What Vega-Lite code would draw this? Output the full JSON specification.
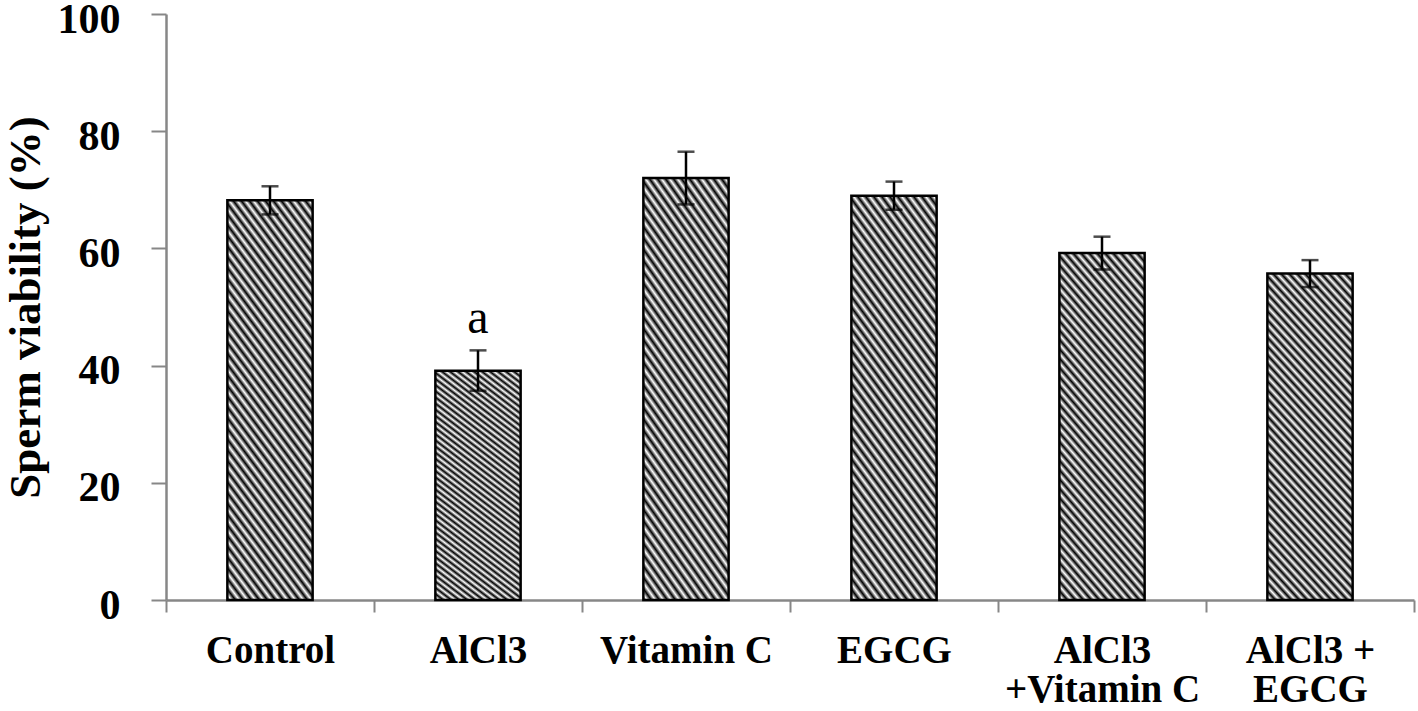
{
  "$schema": "https://vega.github.io/schema/vega-lite/v6.json",
  "autosize": "none",
  "width": 1248,
  "height": 586,
  "padding": {"left": 166, "top": 14, "right": 4, "bottom": 111},
  "background": "white",
  "config": {"view": {"stroke": null}},
  "data": {
    "values": [
      {"group": "Control", "mean": 68.2, "lo": 65.8, "hi": 70.6, "sig": ""},
      {"group": "AlCl3", "mean": 39.1, "lo": 35.7, "hi": 42.6, "sig": "a"},
      {"group": "Vitamin C", "mean": 72.0, "lo": 67.5, "hi": 76.5, "sig": ""},
      {"group": "EGCG", "mean": 69.0, "lo": 66.6, "hi": 71.4, "sig": ""},
      {"group": "AlCl3|+Vitamin C", "mean": 59.2, "lo": 56.4, "hi": 62.0, "sig": ""},
      {"group": "AlCl3 +|EGCG", "mean": 55.7, "lo": 53.4, "hi": 58.0, "sig": ""}
    ]
  },
  "encoding": {
    "x": {
      "field": "group",
      "type": "nominal",
      "sort": null,
      "scale": {"paddingInner": 0, "paddingOuter": 0},
      "axis": {
        "title": null,
        "labelAngle": 0,
        "labelExpr": "split(datum.label, '|')",
        "labelFont": "Liberation Serif",
        "labelFontWeight": "bold",
        "labelFontSize": 39,
        "labelLineHeight": 39,
        "labelColor": "black",
        "labelPadding": 19,
        "labelLimit": 400,
        "tickBand": "extent",
        "tickSize": 12,
        "tickWidth": 2,
        "tickColor": "#878787",
        "domainColor": "#878787",
        "domainWidth": 2.5
      }
    }
  },
  "layer": [
    {
      "mark": {
        "type": "bar",
        "width": {"band": 0.41},
        "stroke": "black",
        "strokeWidth": 2.5,
        "fill": {
          "gradient": "linear",
          "x1": 0, "y1": 1, "x2": 0.34, "y2": -0.19,
          "stops": [
            {"offset": 0, "color": "#000"},
            {"offset": 0.0104, "color": "#fff"},
            {"offset": 0.0208, "color": "#000"},
            {"offset": 0.0313, "color": "#fff"},
            {"offset": 0.0417, "color": "#000"},
            {"offset": 0.0521, "color": "#fff"},
            {"offset": 0.0625, "color": "#000"},
            {"offset": 0.0729, "color": "#fff"},
            {"offset": 0.0833, "color": "#000"},
            {"offset": 0.0938, "color": "#fff"},
            {"offset": 0.1042, "color": "#000"},
            {"offset": 0.1146, "color": "#fff"},
            {"offset": 0.125, "color": "#000"},
            {"offset": 0.1354, "color": "#fff"},
            {"offset": 0.1458, "color": "#000"},
            {"offset": 0.1563, "color": "#fff"},
            {"offset": 0.1667, "color": "#000"},
            {"offset": 0.1771, "color": "#fff"},
            {"offset": 0.1875, "color": "#000"},
            {"offset": 0.1979, "color": "#fff"},
            {"offset": 0.2083, "color": "#000"},
            {"offset": 0.2188, "color": "#fff"},
            {"offset": 0.2292, "color": "#000"},
            {"offset": 0.2396, "color": "#fff"},
            {"offset": 0.25, "color": "#000"},
            {"offset": 0.2604, "color": "#fff"},
            {"offset": 0.2708, "color": "#000"},
            {"offset": 0.2813, "color": "#fff"},
            {"offset": 0.2917, "color": "#000"},
            {"offset": 0.3021, "color": "#fff"},
            {"offset": 0.3125, "color": "#000"},
            {"offset": 0.3229, "color": "#fff"},
            {"offset": 0.3333, "color": "#000"},
            {"offset": 0.3438, "color": "#fff"},
            {"offset": 0.3542, "color": "#000"},
            {"offset": 0.3646, "color": "#fff"},
            {"offset": 0.375, "color": "#000"},
            {"offset": 0.3854, "color": "#fff"},
            {"offset": 0.3958, "color": "#000"},
            {"offset": 0.4063, "color": "#fff"},
            {"offset": 0.4167, "color": "#000"},
            {"offset": 0.4271, "color": "#fff"},
            {"offset": 0.4375, "color": "#000"},
            {"offset": 0.4479, "color": "#fff"},
            {"offset": 0.4583, "color": "#000"},
            {"offset": 0.4688, "color": "#fff"},
            {"offset": 0.4792, "color": "#000"},
            {"offset": 0.4896, "color": "#fff"},
            {"offset": 0.5, "color": "#000"},
            {"offset": 0.5104, "color": "#fff"},
            {"offset": 0.5208, "color": "#000"},
            {"offset": 0.5313, "color": "#fff"},
            {"offset": 0.5417, "color": "#000"},
            {"offset": 0.5521, "color": "#fff"},
            {"offset": 0.5625, "color": "#000"},
            {"offset": 0.5729, "color": "#fff"},
            {"offset": 0.5833, "color": "#000"},
            {"offset": 0.5938, "color": "#fff"},
            {"offset": 0.6042, "color": "#000"},
            {"offset": 0.6146, "color": "#fff"},
            {"offset": 0.625, "color": "#000"},
            {"offset": 0.6354, "color": "#fff"},
            {"offset": 0.6458, "color": "#000"},
            {"offset": 0.6563, "color": "#fff"},
            {"offset": 0.6667, "color": "#000"},
            {"offset": 0.6771, "color": "#fff"},
            {"offset": 0.6875, "color": "#000"},
            {"offset": 0.6979, "color": "#fff"},
            {"offset": 0.7083, "color": "#000"},
            {"offset": 0.7188, "color": "#fff"},
            {"offset": 0.7292, "color": "#000"},
            {"offset": 0.7396, "color": "#fff"},
            {"offset": 0.75, "color": "#000"},
            {"offset": 0.7604, "color": "#fff"},
            {"offset": 0.7708, "color": "#000"},
            {"offset": 0.7813, "color": "#fff"},
            {"offset": 0.7917, "color": "#000"},
            {"offset": 0.8021, "color": "#fff"},
            {"offset": 0.8125, "color": "#000"},
            {"offset": 0.8229, "color": "#fff"},
            {"offset": 0.8333, "color": "#000"},
            {"offset": 0.8438, "color": "#fff"},
            {"offset": 0.8542, "color": "#000"},
            {"offset": 0.8646, "color": "#fff"},
            {"offset": 0.875, "color": "#000"},
            {"offset": 0.8854, "color": "#fff"},
            {"offset": 0.8958, "color": "#000"},
            {"offset": 0.9063, "color": "#fff"},
            {"offset": 0.9167, "color": "#000"},
            {"offset": 0.9271, "color": "#fff"},
            {"offset": 0.9375, "color": "#000"},
            {"offset": 0.9479, "color": "#fff"},
            {"offset": 0.9583, "color": "#000"},
            {"offset": 0.9688, "color": "#fff"},
            {"offset": 0.9792, "color": "#000"},
            {"offset": 0.9896, "color": "#fff"},
            {"offset": 1, "color": "#000"}
          ]
        }
      },
      "encoding": {
        "y": {
          "field": "mean",
          "type": "quantitative",
          "scale": {"domain": [0, 100], "nice": false},
          "axis": {
            "title": "Sperm viability (%)",
            "titleFont": "Liberation Serif",
            "titleFontWeight": "bold",
            "titleFontSize": 45,
            "titleColor": "black",
            "titlePadding": 9,
            "values": [0, 20, 40, 60, 80, 100],
            "grid": false,
            "labelFont": "Liberation Serif",
            "labelFontWeight": "bold",
            "labelFontSize": 42,
            "labelColor": "black",
            "labelPadding": 31,
            "labelOffset": 5,
            "tickSize": 15,
            "tickWidth": 2,
            "tickColor": "#878787",
            "domainColor": "#878787",
            "domainWidth": 2.5
          }
        }
      }
    },
    {
      "mark": {"type": "rule", "color": "black", "strokeWidth": 2.5},
      "encoding": {
        "y": {"field": "lo", "type": "quantitative"},
        "y2": {"field": "hi"}
      }
    },
    {
      "mark": {"type": "tick", "color": "black", "thickness": 2.5, "size": 17},
      "encoding": {"y": {"field": "hi", "type": "quantitative"}}
    },
    {
      "mark": {"type": "tick", "color": "black", "thickness": 2.5, "size": 17},
      "encoding": {"y": {"field": "lo", "type": "quantitative"}}
    },
    {
      "transform": [{"filter": "datum.sig !== ''"}],
      "mark": {
        "type": "text",
        "font": "Liberation Serif",
        "fontSize": 48,
        "color": "black",
        "baseline": "alphabetic",
        "align": "center",
        "dy": -17
      },
      "encoding": {
        "y": {"field": "hi", "type": "quantitative"},
        "text": {"field": "sig"}
      }
    }
  ]
}
